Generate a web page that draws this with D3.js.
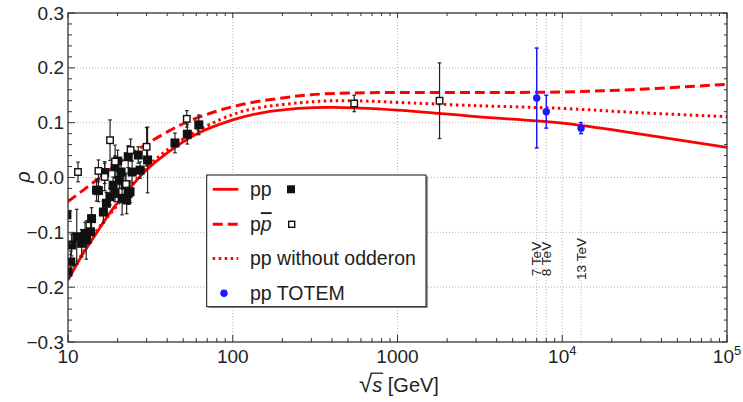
<!DOCTYPE html>
<html><head><meta charset="utf-8">
<script src="https://cdn.jsdelivr.net/npm/d3@7"></script>
<style>body{margin:0;background:#fff}svg{display:block}text{font-family:"Liberation Sans",Arial,sans-serif}</style>
</head><body><svg id="c" width="743" height="402"></svg>
<script>
// ---- data ----
const xMajorTicks = [10, 100, 1000, 10000, 100000];
const xTickLabels = ["10", "100", "1000", "10^4", "10^5"];
const yTicks = [-0.3, -0.2, -0.1, 0.0, 0.1, 0.2, 0.3];
const yTickLabels = ["\u22120.3", "\u22120.2", "\u22120.1", "0.0", "0.1", "0.2", "0.3"];
const gridX = [100, 1000, 10000];
const gridY = [-0.2, -0.1, 0.0, 0.1, 0.2];
const energyLines = [7000, 8000, 13000];
const energyLabels = ["7 TeV", "8 TeV", "13 TeV"];

// model curves [sqrt(s) GeV, rho]
const ppCurve = [[10,-0.187],[12,-0.145],[15,-0.100],[18,-0.064],[22,-0.031],[30,0.014],[40,0.045],[60,0.079],[100,0.105],[150,0.118],[250,0.126],[400,0.128],[1000,0.123],[3000,0.111],[10000,0.099],[30000,0.079],[100000,0.055]];
const ppbarCurve = [[10,-0.044],[15,-0.004],[20,0.025],[30,0.061],[50,0.098],[80,0.121],[127,0.136],[200,0.145],[300,0.151],[500,0.154],[1000,0.155],[3000,0.155],[10000,0.156],[30000,0.161],[100000,0.170]];
const ppNoOddCurve = [[10,-0.183],[15,-0.096],[20,-0.050],[30,0.018],[50,0.070],[100,0.115],[150,0.128],[250,0.136],[400,0.140],[700,0.139],[1000,0.137],[3000,0.131],[10000,0.126],[30000,0.118],[100000,0.111]];

// measurements [sqrt(s), rho, error]
const ppData = [[10.0,-0.172,0.012],[10.4,-0.154,0.02],[9.85,-0.068,0.02],[10.5,-0.123,0.02],[11.3,-0.108,0.05],[12.1,-0.120,0.025],[12.7,-0.102,0.02],[12.9,-0.114,0.035],[13.7,-0.099,0.02],[13.9,-0.075,0.02],[14.9,-0.023,0.02],[15.3,-0.024,0.02],[16.4,-0.063,0.02],[16.7,0.009,0.02],[17.1,-0.047,0.02],[18.0,-0.035,0.015],[18.8,-0.014,0.015],[19.3,-0.029,0.015],[19.3,0.0195,0.02],[20.5,-0.005,0.015],[21.3,-0.038,0.03],[22.2,-0.014,0.02],[22.7,-0.041,0.025],[23.2,0.038,0.02],[23.2,-0.029,0.02],[23.8,-0.026,0.02],[24.5,0.010,0.02],[26.7,0.041,0.015],[27.4,0.0135,0.015],[30.4,0.032,0.06],[44.6,0.063,0.018],[53.0,0.079,0.018],[62.2,0.096,0.018],[20.0,0.030,0.02],[21.0,0.010,0.02]];
const ppbarData = [[11.5,0.010,0.018],[15.3,0.012,0.02],[16.7,0.001,0.025],[18.0,0.068,0.037],[19.3,0.029,0.03],[22.5,-0.012,0.02],[24.0,0.050,0.02],[30.0,0.056,0.035],[52.6,0.107,0.015],[546,0.135,0.015],[1800,0.140,0.069]];
const totemData = [[7000,0.145,0.091],[8000,0.120,0.030],[13000,0.090,0.010]];

const legendLabels = ["pp", "pp\u0305", "pp without odderon", "pp TOTEM"];

// ---- drawing ----
const svg = d3.select("#c");
const L = 68, R = 727, T = 13, B = 342;
const x = d3.scaleLog().domain([10, 100000]).range([L, R]);
const y = d3.scaleLinear().domain([-0.3, 0.3]).range([B, T]);
const red = "#ff0000", blue = "#1a1aff", frameCol = "#333";

svg.append("defs").append("clipPath").attr("id", "clip")
  .append("rect").attr("x", L).attr("y", T).attr("width", R - L).attr("height", B - T);

// grid
const grid = svg.append("g").attr("stroke", "#b5b5b5").attr("stroke-width", 1).attr("stroke-dasharray", "1,2");
grid.selectAll(".gx").data(gridX.concat(energyLines)).join("line")
  .attr("x1", d => x(d)).attr("x2", d => x(d)).attr("y1", T).attr("y2", B);
grid.selectAll(".gy").data(gridY).join("line")
  .attr("x1", L).attr("x2", R).attr("y1", d => y(d)).attr("y2", d => y(d));

// energy labels
svg.selectAll(".el").data(energyLines).join("text")
  .attr("transform", d => `translate(${x(d)},259) rotate(-90)`)
  .attr("text-anchor", "middle").attr("dominant-baseline", "central")
  .attr("font-size", 13.5).attr("fill", "#222")
  .text((d, i) => energyLabels[i]);

const plot = svg.append("g").attr("clip-path", "url(#clip)");
const line = d3.line().x(d => x(d[0])).y(d => y(d[1])).curve(d3.curveCatmullRom.alpha(0.5));
plot.append("path").datum(ppCurve).attr("d", line).attr("fill", "none").attr("stroke", red).attr("stroke-width", 2.8);
plot.append("path").datum(ppbarCurve).attr("d", line).attr("fill", "none").attr("stroke", red).attr("stroke-width", 3).attr("stroke-dasharray", "10,5");
plot.append("path").datum(ppNoOddCurve).attr("d", line).attr("fill", "none").attr("stroke", red).attr("stroke-width", 3).attr("stroke-dasharray", "2.5,3.5");

function errBars(g, data, col, w, cap) {
  const e = g.append("g").attr("stroke", col).attr("stroke-width", w);
  e.selectAll(".v").data(data).join("line")
    .attr("x1", d => x(d[0])).attr("x2", d => x(d[0]))
    .attr("y1", d => y(d[1] - d[2])).attr("y2", d => y(d[1] + d[2]));
  e.selectAll(".t").data(data).join("line")
    .attr("x1", d => x(d[0]) - cap).attr("x2", d => x(d[0]) + cap)
    .attr("y1", d => y(d[1] + d[2])).attr("y2", d => y(d[1] + d[2]));
  e.selectAll(".b").data(data).join("line")
    .attr("x1", d => x(d[0]) - cap).attr("x2", d => x(d[0]) + cap)
    .attr("y1", d => y(d[1] - d[2])).attr("y2", d => y(d[1] - d[2]));
}
errBars(plot, ppData, "#222", 1.2, 1.8);
errBars(plot, ppbarData, "#222", 1.2, 1.8);
errBars(plot, totemData, blue, 1.5, 2);

const fs = 9;
plot.selectAll(".pp").data(ppData).join("rect")
  .attr("x", d => x(d[0]) - fs / 2).attr("y", d => y(d[1]) - fs / 2)
  .attr("width", fs).attr("height", fs).attr("fill", "#111");
const os = 6.5;
plot.selectAll(".pb").data(ppbarData).join("rect")
  .attr("x", d => x(d[0]) - os / 2).attr("y", d => y(d[1]) - os / 2)
  .attr("width", os).attr("height", os).attr("fill", "#fff").attr("stroke", "#111").attr("stroke-width", 1.4);
plot.selectAll(".tt").data(totemData).join("circle")
  .attr("cx", d => x(d[0])).attr("cy", d => y(d[1])).attr("r", 3.7).attr("fill", blue);

// axes with inward ticks
function minorX() {
  const t = [];
  for (let e = 10; e < 100000; e *= 10) for (let k = 2; k <= 9; k++) t.push(e * k);
  return t;
}
function minorY() {
  const t = [];
  for (let i = -15; i <= 15; i++) if (i % 5 !== 0) t.push(i * 0.02);
  return t;
}
const ax = svg.append("g").attr("stroke", frameCol);
function tickLines(vals, orient, len) {
  ax.append("g").selectAll("line").data(vals).join("line").each(function (d) {
    const s = d3.select(this).attr("stroke-width", 1);
    if (orient === "b") s.attr("x1", x(d)).attr("x2", x(d)).attr("y1", B).attr("y2", B - len);
    if (orient === "t") s.attr("x1", x(d)).attr("x2", x(d)).attr("y1", T).attr("y2", T + len);
    if (orient === "l") s.attr("y1", y(d)).attr("y2", y(d)).attr("x1", L).attr("x2", L + len);
    if (orient === "r") s.attr("y1", y(d)).attr("y2", y(d)).attr("x1", R).attr("x2", R - len);
  });
}
tickLines(xMajorTicks, "b", 7); tickLines(minorX(), "b", 4);
tickLines(xMajorTicks, "t", 5); tickLines(minorX(), "t", 3);
tickLines(yTicks, "l", 7); tickLines(minorY(), "l", 4);
tickLines(yTicks, "r", 5); tickLines(minorY(), "r", 3);

svg.append("rect").attr("x", L).attr("y", T).attr("width", R - L).attr("height", B - T)
  .attr("fill", "none").attr("stroke", frameCol).attr("stroke-width", 1.3);

// tick labels
const xl = svg.selectAll(".xl").data(xMajorTicks).join("text")
  .attr("x", d => x(d)).attr("y", 363).attr("text-anchor", "middle").attr("font-size", 19).attr("fill", "#222");
xl.each(function (d, i) {
  const lab = xTickLabels[i];
  const t = d3.select(this);
  if (lab.includes("^")) {
    const [b, p] = lab.split("^");
    t.append("tspan").text(b);
    t.append("tspan").attr("font-size", 13).attr("dy", -8).text(p);
  } else t.text(lab);
});
svg.selectAll(".yl").data(yTicks).join("text")
  .attr("x", 64).attr("y", d => y(d)).attr("dy", "0.35em").attr("text-anchor", "end")
  .attr("font-size", 19).attr("fill", "#222").text((d, i) => yTickLabels[i]);

// axis titles
svg.append("text").attr("transform", "translate(30,177) rotate(-90)").attr("text-anchor", "middle")
  .attr("font-size", 20).attr("font-style", "italic").attr("fill", "#222").text("\u03c1");
const xt = svg.append("text").attr("x", 399).attr("y", 392).attr("text-anchor", "middle").attr("font-size", 20).attr("fill", "#222");
xt.append("tspan").attr("font-size", 24).text("\u221a");
xt.append("tspan").attr("font-style", "italic").text("s");
xt.append("tspan").text(" [GeV]");
// vinculum over s
{
  const n = xt.node();
  const e0 = n.getEndPositionOfChar(1);
  const r0 = n.getExtentOfChar(0);
  svg.append("line").attr("x1", r0.x + r0.width - 1.5).attr("x2", e0.x + 1)
    .attr("y1", r0.y + 3.2).attr("y2", r0.y + 3.2).attr("stroke", "#222").attr("stroke-width", 1.3);
}

// legend
const lg = svg.append("g");
lg.append("rect").attr("x", 208.5).attr("y", 176.5).attr("width", 219.5).attr("height", 131.5).attr("fill", "#999");
lg.append("rect").attr("x", 206.7).attr("y", 175).attr("width", 219.3).attr("height", 131.7).attr("fill", "#fff").attr("stroke", "#111").attr("stroke-width", 1);
const rowsY = [189.3, 224.3, 258.5, 293.3];
const dashes = [null, "10,5", "2.5,3.5"];
[0, 1, 2].forEach(i => {
  lg.append("line").attr("x1", 212.7).attr("x2", 238.3).attr("y1", rowsY[i]).attr("y2", rowsY[i])
    .attr("stroke", red).attr("stroke-width", i === 0 ? 2.8 : 3).attr("stroke-dasharray", dashes[i]);
});
lg.append("circle").attr("cx", 224).attr("cy", rowsY[3]).attr("r", 3.7).attr("fill", blue);
rowsY.forEach((ry, i) => {
  const t = lg.append("text").attr("x", 250).attr("y", ry).attr("dy", "0.35em").attr("font-size", 19.5).attr("fill", "#222");
  if (i === 1) {
    t.append("tspan").text("p");
    t.append("tspan").attr("font-style", "italic").style("text-decoration", "overline").text("p");
  } else t.text(legendLabels[i]);
});
lg.append("rect").attr("x", 291 - 4).attr("y", rowsY[0] - 4).attr("width", 8).attr("height", 8).attr("fill", "#111");
lg.append("rect").attr("x", 291.7 - 3).attr("y", rowsY[1] - 3).attr("width", 6).attr("height", 6).attr("fill", "#fff").attr("stroke", "#111").attr("stroke-width", 1.4);
</script></body></html>
